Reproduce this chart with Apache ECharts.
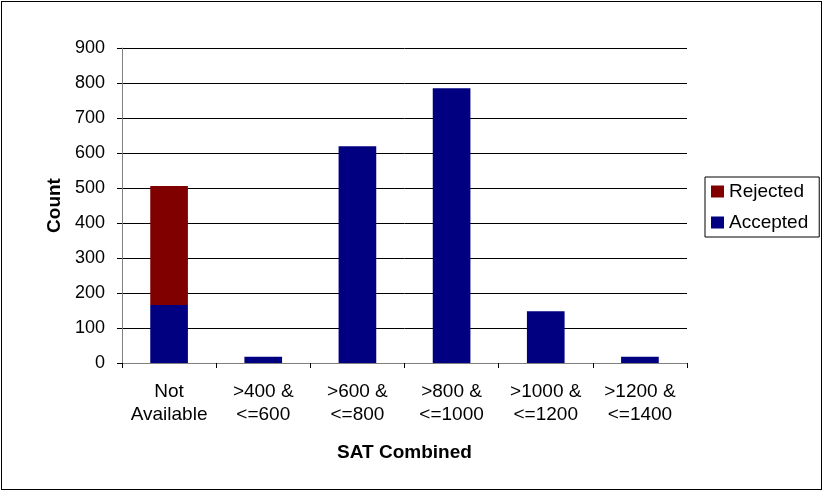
<!DOCTYPE html>
<html>
<head>
<meta charset="utf-8">
<script src="https://cdn.jsdelivr.net/npm/echarts@6/dist/echarts.min.js"></script>
<style>
  html, body { margin: 0; padding: 0; background: #fff; }
  #main { position: absolute; left: 0; top: 0; width: 824px; height: 492px; }
  #frame {
    position: absolute; left: 1px; top: 1px;
    width: 821px; height: 489px;
    box-sizing: border-box; border: 1px solid #000;
    pointer-events: none;
  }
</style>
</head>
<body>
<div id="main"></div>
<div id="frame"></div>
<script>
// data
const categories = ['Not\nAvailable', '>400 &\n<=600', '>600 &\n<=800', '>800 &\n<=1000', '>1000 &\n<=1200', '>1200 &\n<=1400'];
const accepted = [166, 18, 619, 785, 148, 18];
const rejected = [340, 0, 0, 0, 0, 0];
const yTicks = { min: 0, max: 900, interval: 100 };

const font = 'Liberation Sans, Arial, sans-serif';
const chart = echarts.init(document.getElementById('main'));

const option = {
  animation: false,
  textStyle: { fontFamily: font },
  grid: { left: 122, right: 137, top: 48, bottom: 129 },
  legend: {
    orient: 'vertical',
    left: 705,
    top: 177,
    data: ['Rejected', 'Accepted'],
    icon: 'rect',
    itemWidth: 13,
    itemHeight: 12,
    itemGap: 12,
    padding: [5, 11, 5, 6],
    borderColor: '#000',
    borderWidth: 1,
    textStyle: { fontFamily: font, fontSize: 19, color: '#000' }
  },
  xAxis: {
    type: 'category',
    data: categories,
    name: 'SAT Combined',
    nameLocation: 'middle',
    nameGap: 80,
    nameTextStyle: { fontFamily: font, fontSize: 19, fontWeight: 'bold', color: '#000' },
    axisLine: { lineStyle: { color: '#808080', width: 1 } },
    axisTick: { show: true, length: 5, lineStyle: { color: '#000' } },
    axisLabel: { fontFamily: font, fontSize: 19, color: '#000', margin: 17, lineHeight: 23, interval: 0 }
  },
  yAxis: {
    type: 'value',
    min: yTicks.min,
    max: yTicks.max,
    interval: yTicks.interval,
    name: 'Count',
    nameLocation: 'middle',
    nameGap: 57,
    nameTextStyle: { fontFamily: font, fontSize: 19, fontWeight: 'bold', color: '#000' },
    axisLine: { show: true, lineStyle: { color: '#808080', width: 1 } },
    axisTick: { show: true, length: 5, lineStyle: { color: '#000' } },
    axisLabel: { fontFamily: font, fontSize: 18, color: '#000', margin: 17 },
    splitLine: { lineStyle: { color: '#000', width: 1 } }
  },
  series: [
    {
      name: 'Accepted',
      type: 'bar',
      stack: 'total',
      data: accepted,
      barWidth: '40%',
      itemStyle: { color: '#000080' }
    },
    {
      name: 'Rejected',
      type: 'bar',
      stack: 'total',
      data: rejected,
      barWidth: '40%',
      itemStyle: { color: '#800000' }
    }
  ]
};

chart.setOption(option);
</script>
</body>
</html>
